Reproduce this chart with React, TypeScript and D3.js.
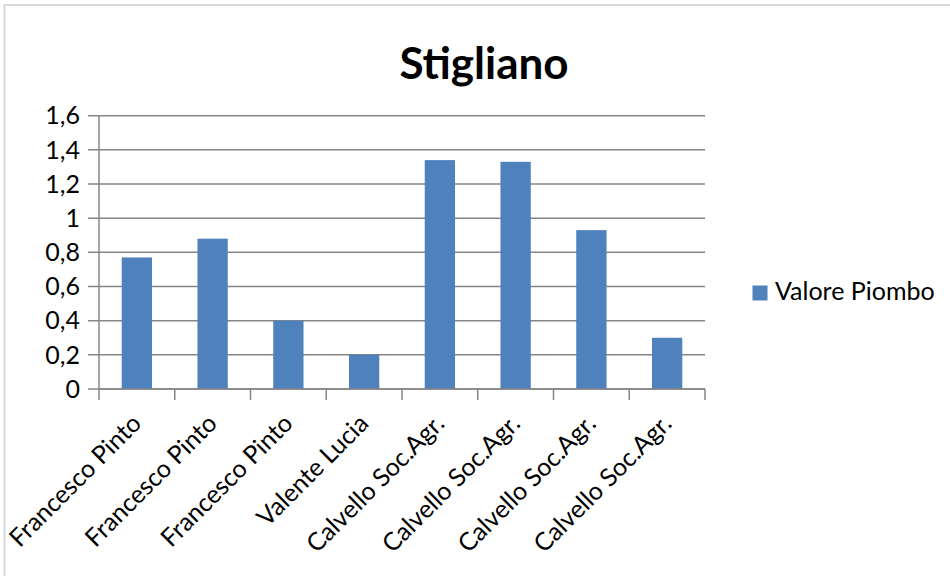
import React from "react";
import * as d3 from "d3";

const categories = [
  "Francesco Pinto",
  "Francesco Pinto",
  "Francesco Pinto",
  "Valente Lucia",
  "Calvello Soc.Agr.",
  "Calvello Soc.Agr.",
  "Calvello Soc.Agr.",
  "Calvello Soc.Agr.",
];
const values = [0.77, 0.88, 0.4, 0.2, 1.34, 1.33, 0.93, 0.3];
const yTicks = [0, 0.2, 0.4, 0.6, 0.8, 1, 1.2, 1.4, 1.6];
const seriesName = "Valore Piombo";
const title = "Stigliano";

const W = 950;
const H = 576;
const FONT = "Lato, 'Open Sans', sans-serif";
const BLUE = "#4F81BD";
const GRID = "#868686";

export default function App() {
  const left = 99;
  const right = 705;
  const top = 115.7;
  const bottom = 389;

  const x = d3
    .scaleBand<number>()
    .domain(d3.range(categories.length))
    .range([left, right])
    .paddingInner(0.6)
    .paddingOuter(0.3);
  const xOuter = d3
    .scaleBand<number>()
    .domain(d3.range(categories.length))
    .range([left, right]);
  const y = d3.scaleLinear().domain([0, 1.6]).range([bottom, top]);
  const fmt = (v: number) => d3.format(".1~f")(v).replace(".", ",");

  const boundaries = d3.range(categories.length + 1).map((i) =>
    i < categories.length ? (xOuter(i) as number) : right
  );

  return (
    <svg
      width={W}
      height={H}
      style={{ position: "absolute", left: 0, top: 0, background: "#fff" }}
      fontFamily={FONT}
    >
      <rect x={0} y={0} width={W} height={H} fill="#fff" />
      <rect
        x={4.5}
        y={5}
        width={W + 20}
        height={H + 20}
        fill="none"
        stroke="#d9d9d9"
        strokeWidth={2}
      />
      <text
        x={484}
        y={79}
        textAnchor="middle"
        fontSize={44}
        fontWeight="bold"
        fill="#000"
      >
        {title}
      </text>

      {yTicks.map((t) => (
        <g key={t}>
          <line
            x1={88}
            x2={right}
            y1={y(t)}
            y2={y(t)}
            stroke={GRID}
            strokeWidth={1.5}
          />
          <text
            x={80}
            y={y(t)}
            dy="0.35em"
            textAnchor="end"
            fontSize={25}
            fill="#000"
          >
            {fmt(t)}
          </text>
        </g>
      ))}

      {values.map((v, i) => (
        <rect
          key={i}
          x={x(i)}
          y={y(v)}
          width={x.bandwidth()}
          height={bottom - y(v)}
          fill={BLUE}
        />
      ))}

      <line x1={left} x2={left} y1={top} y2={bottom} stroke={GRID} strokeWidth={1.5} />
      <line x1={left} x2={right} y1={bottom} y2={bottom} stroke={GRID} strokeWidth={1.5} />
      {boundaries.map((b, i) => (
        <line
          key={i}
          x1={b}
          x2={b}
          y1={bottom}
          y2={bottom + 11}
          stroke={GRID}
          strokeWidth={1.5}
        />
      ))}

      {categories.map((c, i) => {
        const cx = (xOuter(i) as number) + xOuter.bandwidth() / 2;
        return (
          <text
            key={i}
            transform={`translate(${cx + 6},${425}) rotate(-45)`}
            textAnchor="end"
            fontSize={25}
            fill="#000"
          >
            {c}
          </text>
        );
      })}

      <rect x={752.5} y={285.5} width={15} height={15} fill={BLUE} />
      <text x={775} y={300} fontSize={25} fill="#000">
        {seriesName}
      </text>
    </svg>
  );
}
